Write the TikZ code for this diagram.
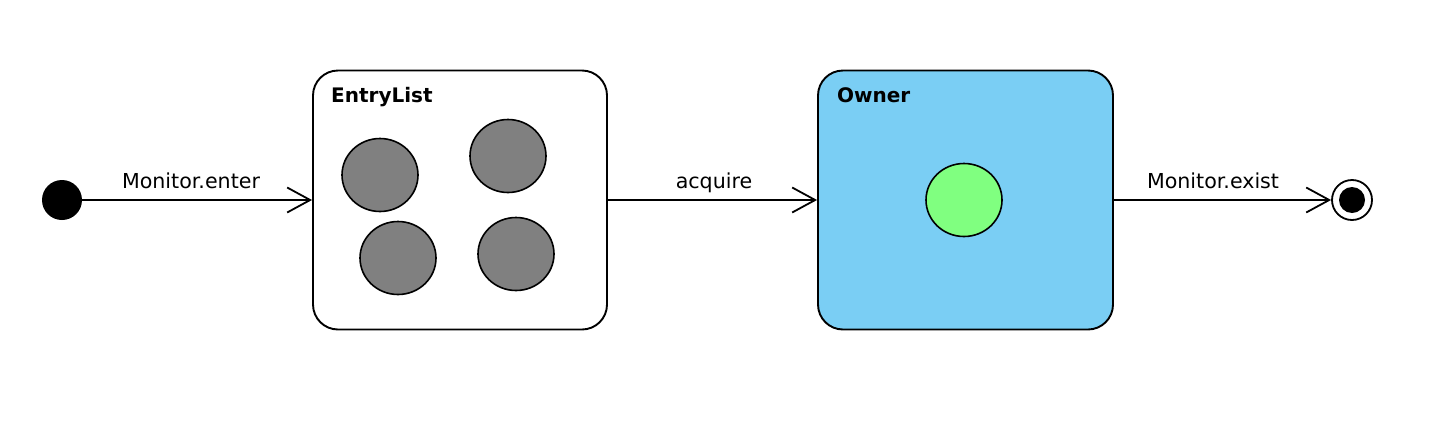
\documentclass[tikz,border=0pt]{standalone}
\usepackage{fontspec}
\setmainfont{DejaVu Sans}
\usetikzlibrary{arrows.meta,shapes.geometric}
\definecolor{ownerblue}{HTML}{7ACEF4}
\definecolor{threadgray}{HTML}{808080}
\definecolor{ownergreen}{HTML}{80FF80}
\begin{document}
\begin{tikzpicture}[x=1pt,y=-1pt,
  statebox/.style={draw=black, line width=1.9pt, rounded corners=25pt},
  thread/.style={draw=black, line width=1.6pt, ellipse, minimum width=76pt, minimum height=73pt, inner sep=0pt},
  trans/.style={draw=black, line width=1.8pt, -{Straight Barb[length=23pt,width=25pt,line width=1.8pt]}},
  tlabel/.style={font=\fontsize{20.6}{24}\selectfont, anchor=base, inner sep=0pt},
  title/.style={font=\fontsize{20}{24}\selectfont\bfseries, anchor=base west, inner sep=0pt}]
\useasboundingbox (0,0) rectangle (1434,426);
% initial
\node (init) [circle, fill=black, minimum size=40pt, inner sep=0pt] at (62,200) {};
% EntryList
\node (entry) [statebox, fill=white, minimum width=294pt, minimum height=259pt, inner sep=0pt] at (460,200) {};
\node (entrytitle) [title] at (331,102) {EntryList};
\node (t1) [thread, fill=threadgray] at (380,175) {};
\node (t2) [thread, fill=threadgray] at (508,156) {};
\node (t3) [thread, fill=threadgray] at (398,258) {};
\node (t4) [thread, fill=threadgray] at (516,254) {};
% Owner
\node (owner) [statebox, fill=ownerblue, minimum width=295pt, minimum height=259pt, inner sep=0pt] at (965.5,200) {};
\node (ownertitle) [title] at (837,102) {Owner};
\node (own) [thread, fill=ownergreen] at (964,200) {};
% final
\node (final) [circle, draw=black, line width=1.8pt, fill=white, minimum size=40pt, inner sep=0pt] at (1352,200) {};
\node (finalin) [circle, fill=black, minimum size=26pt, inner sep=0pt] at (1352,200) {};
% transitions
\draw[trans] (init) -- (entry.west) ;
\draw[trans] (entry.east) -- (owner.west);
\draw[trans] (owner.east) -- (final.west);
\node (l1) [tlabel] at (191,188) {Monitor.enter};
\node (l2) [tlabel] at (714,188) {acquire};
\node (l3) [tlabel] at (1213,188) {Monitor.exist};
\end{tikzpicture}
\end{document}
